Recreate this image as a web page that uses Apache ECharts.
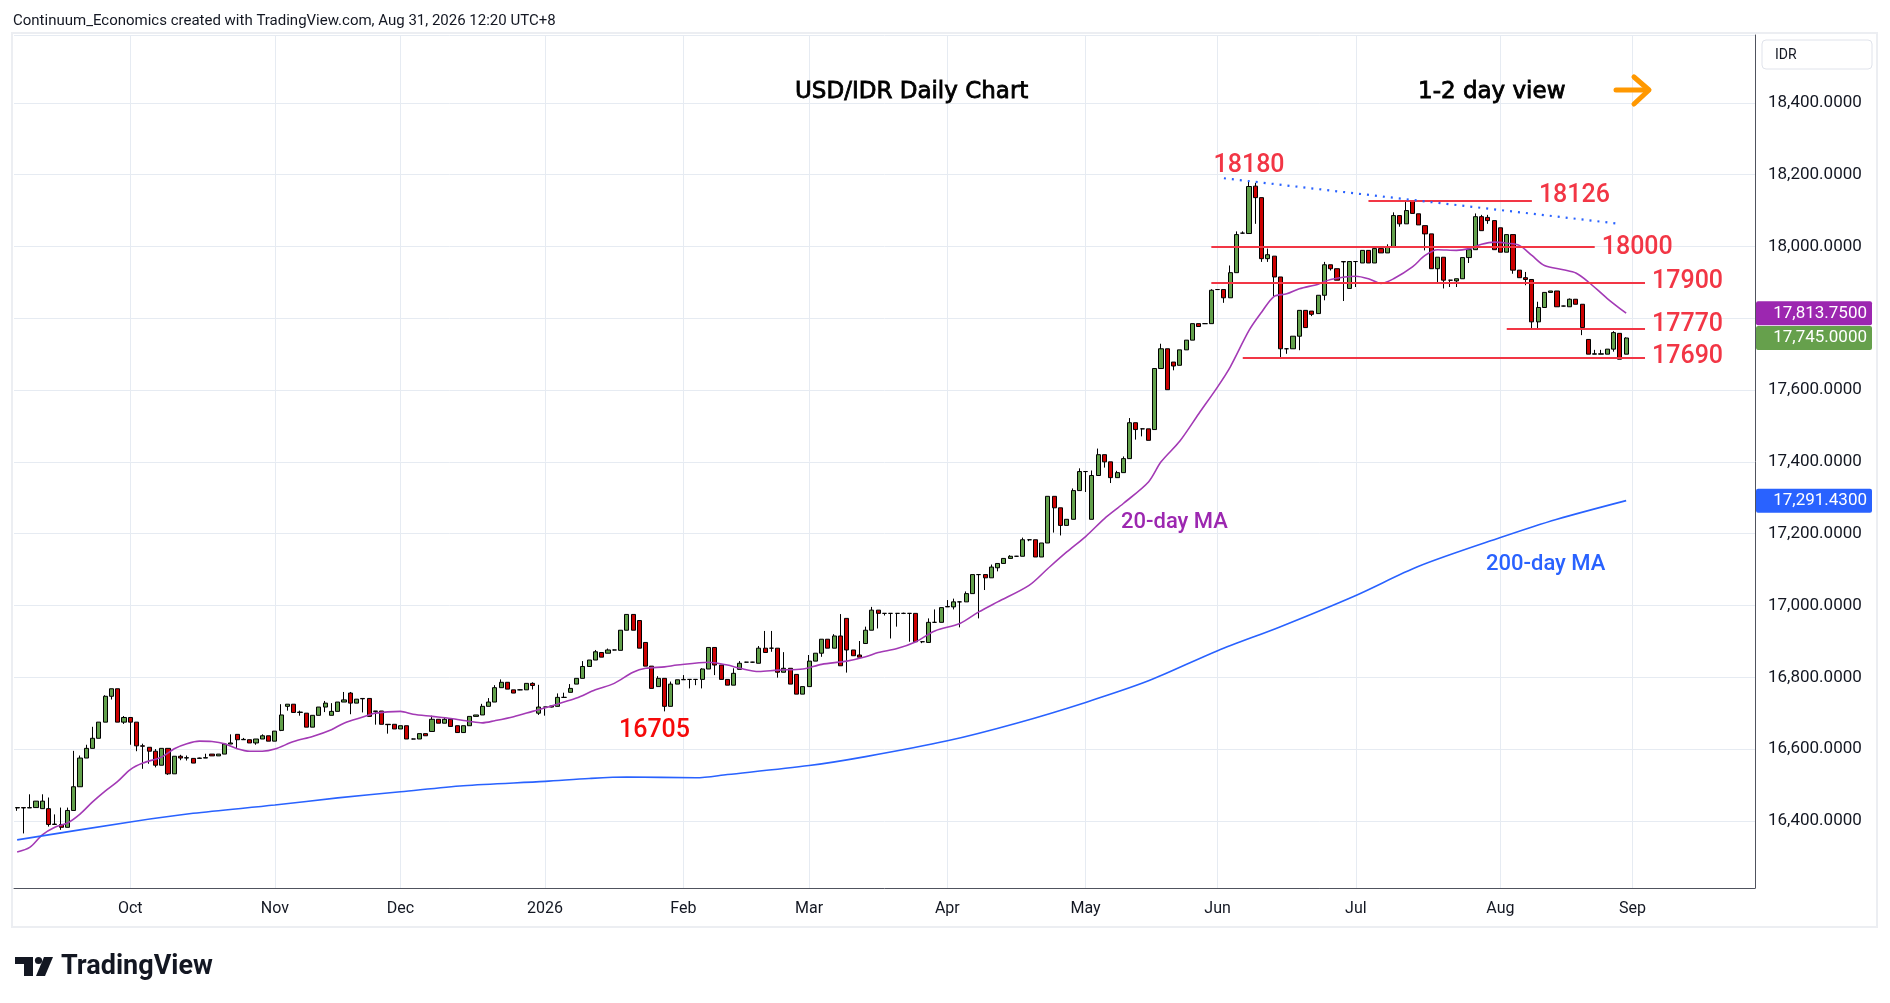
<!DOCTYPE html>
<html lang="en">
<head>
<meta charset="UTF-8">
<title>USD/IDR Daily Chart</title>
<script src="https://cdn.jsdelivr.net/npm/echarts@6/dist/echarts.min.js"></script>
<style>
  html, body { margin: 0; padding: 0; background: #fff; }
  #main { width: 1890px; height: 1003px; }
</style>
</head>
<body>
<div id="main"></div>
<script type="text/javascript">
// daily candles, [open, high, low, close], one array per month
var sep25 = [
  [16436,16437,16428,16437],[16437,16437,16365,16436],[16436,16474,16436,16437],[16437,16455,16437,16455],
  [16434,16474,16434,16455],[16434,16465,16384,16390],[16390,16418,16390,16391],[16390,16437,16375,16382],
  [16382,16437,16382,16429],[16429,16595,16429,16495],[16495,16582,16495,16575],[16575,16612,16575,16602],
  [16602,16662,16602,16630],[16630,16675,16630,16675],[16675,16750,16675,16747],[16747,16768,16738,16768],
  [16768,16768,16675,16675],[16675,16692,16670,16688]
];
var oct25 = [
  [16688,16688,16612,16675],[16675,16675,16594,16609],[16609,16615,16545,16608],[16605,16605,16559,16594],
  [16594,16600,16549,16555],[16555,16602,16555,16602],[16602,16602,16528,16531],[16531,16580,16531,16580],
  [16580,16584,16569,16575],[16575,16582,16568,16576],[16574,16574,16561,16561],[16574,16576,16573,16575],
  [16575,16587,16575,16576],[16586,16586,16581,16581],[16581,16586,16581,16586],[16586,16617,16586,16614],
  [16614,16641,16614,16617],[16641,16641,16603,16626],[16626,16631,16626,16627],[16626,16626,16617,16617],
  [16617,16628,16612,16628],[16628,16641,16628,16637],[16637,16637,16622,16622]
];
var nov25 = [
  [16622,16650,16622,16650],[16652,16725,16650,16695],[16719,16725,16707,16725],[16725,16725,16702,16702],
  [16702,16707,16693,16703],[16700,16700,16661,16661],[16661,16694,16661,16694],[16694,16717,16694,16717],
  [16717,16734,16703,16728],[16694,16728,16694,16705],[16705,16731,16705,16731],[16731,16759,16731,16737],
  [16756,16759,16697,16728],[16728,16739,16728,16739],[16741,16741,16702,16740],[16741,16741,16691,16691],
  [16706,16706,16668,16705],[16706,16706,16669,16669],[16669,16669,16643,16668],[16669,16669,16656,16656]
];
var dec25 = [
  [16656,16665,16656,16665],[16665,16665,16628,16628],[16628,16629,16627,16628],[16628,16643,16628,16643],
  [16643,16643,16637,16637],[16649,16693,16649,16683],[16683,16683,16672,16672],[16672,16688,16672,16683],
  [16683,16683,16663,16663],[16665,16665,16646,16646],[16646,16665,16646,16665],[16665,16691,16665,16691],
  [16691,16695,16691,16695],[16695,16726,16695,16719],[16719,16742,16719,16731],[16731,16778,16731,16771],
  [16771,16794,16771,16786],[16786,16786,16767,16767],[16765,16765,16756,16756],[16765,16766,16764,16765],
  [16765,16783,16765,16783],[16783,16786,16766,16777],[16700,16779,16695,16717]
];
var jan26 = [
  [16717,16717,16693,16717],[16720,16721,16716,16717],[16719,16755,16719,16744],[16744,16757,16743,16744],
  [16758,16781,16758,16769],[16781,16797,16781,16797],[16797,16845,16797,16830],[16830,16848,16830,16848],
  [16848,16876,16848,16871],[16869,16869,16856,16856],[16867,16880,16867,16876],[16876,16877,16875,16876],
  [16875,16931,16875,16931],[16931,16975,16931,16975],[16975,16975,16931,16931],[16958,16958,16881,16881],
  [16897,16897,16831,16831],[16831,16831,16769,16769],[16774,16803,16774,16797],[16797,16797,16705,16719],
  [16719,16788,16719,16781],[16781,16793,16781,16793]
];
var feb26 = [
  [16793,16806,16793,16794],[16794,16794,16769,16794],[16794,16794,16778,16794],[16794,16825,16769,16823],
  [16823,16883,16823,16883],[16883,16883,16806,16834],[16834,16834,16794,16794],[16794,16794,16778,16778],
  [16778,16825,16778,16811],[16822,16845,16822,16839],[16842,16843,16841,16842],[16842,16843,16841,16842],
  [16839,16887,16839,16881],[16881,16929,16869,16869],[16881,16929,16871,16881],[16881,16881,16799,16814],
  [16814,16870,16814,16825],[16825,16825,16781,16781],[16808,16808,16753,16753],[16753,16774,16753,16774]
];
var mar26 = [
  [16774,16862,16774,16845],[16845,16867,16845,16867],[16867,16906,16857,16906],[16906,16906,16881,16881],
  [16881,16920,16881,16915],[16915,16976,16832,16832],[16964,16964,16813,16876],[16876,16876,16860,16860],
  [16862,16901,16856,16856],[16894,16941,16894,16931],[16931,16996,16931,16987],[16987,16987,16936,16978],
  [16978,16979,16972,16978],[16978,16979,16908,16978],[16978,16979,16941,16978],[16978,16980,16976,16978],
  [16978,16979,16899,16978],[16978,16978,16899,16899],[16899,16900,16895,16899],[16897,16964,16897,16953],
  [16953,16989,16952,16953],[16953,16994,16953,16994]
];
var apr26 = [
  [16996,17015,16996,16997],[16996,17019,16989,17010],[17010,17011,16939,17010],[17010,17039,17010,17033],
  [17033,17086,17033,17086],[17086,17087,16964,17086],[17086,17086,17043,17077],[17077,17114,17077,17107],
  [17105,17117,17095,17117],[17117,17131,17117,17131],[17131,17140,17131,17137],[17137,17138,17136,17137],
  [17137,17189,17137,17183],[17183,17184,17179,17183],[17183,17183,17135,17135],[17135,17174,17135,17174],
  [17174,17304,17174,17304],[17304,17304,17203,17272],[17272,17272,17195,17223],[17223,17240,17223,17240],
  [17240,17326,17240,17320],[17320,17382,17320,17373]
];
var may26 = [
  [17373,17374,17316,17373],[17240,17376,17240,17362],[17362,17437,17362,17420],[17420,17420,17384,17400],
  [17400,17400,17341,17356],[17356,17375,17356,17370],[17370,17415,17370,17409],[17409,17522,17409,17509],
  [17509,17509,17462,17490],[17492,17493,17471,17492],[17492,17492,17460,17460],[17490,17660,17490,17660],
  [17660,17729,17660,17715],[17715,17715,17601,17601],[17678,17678,17655,17667],[17669,17712,17669,17712],
  [17712,17739,17712,17739],[17739,17785,17739,17785],[17785,17785,17777,17777],[17785,17786,17784,17785],
  [17785,17881,17785,17878]
];
var jun26 = [
  [17880,17881,17879,17880],[17880,17880,17843,17857],[17857,17947,17857,17927],[17927,18042,17927,18033],
  [18037,18042,18036,18037],[18036,18180,18036,18167],[18168,18177,18063,18136],[18136,18136,17957,17966],
  [17966,17994,17957,17977],[17973,17973,17861,17915],[17915,17915,17690,17715],[17715,17716,17701,17715],
  [17715,17750,17715,17750],[17750,17822,17711,17822],[17822,17822,17774,17774],[17820,17820,17806,17811],
  [17813,17864,17813,17864],[17864,17957,17850,17949],[17949,17949,17933,17938],[17938,17938,17906,17906],
  [17958,17958,17848,17957],[17883,17958,17883,17958]
];
var jul26 = [
  [17958,17959,17887,17958],[17954,17989,17954,17989],[17989,17989,17954,17954],[17954,17994,17954,17994],
  [17994,17994,17982,17982],[17982,18006,17982,17998],[17998,18095,17998,18086],[18086,18086,18055,18063],
  [18063,18126,18063,18100],[18126,18126,18092,18092],[18091,18091,18060,18060],[18058,18058,17989,18035],
  [18035,18035,17938,17938],[17938,17970,17901,17970],[17970,17970,17883,17906],[17906,17907,17887,17906],
  [17904,17910,17887,17910],[17910,17969,17910,17969],[17969,17991,17954,17991],[17991,18092,17991,18083],
  [18083,18088,18044,18044],[18081,18088,18063,18072],[18072,18072,17991,17991]
];
var aug26 = [
  [18052,18052,17984,17984],[17984,18033,17984,18033],[18033,18033,17924,17934],[17934,17934,17913,17913],
  [17913,17929,17892,17908],[17908,17908,17772,17790],[17790,17846,17772,17830],[17830,17872,17830,17872],
  [17872,17876,17872,17876],[17876,17876,17832,17832],[17834,17835,17833,17834],[17832,17855,17832,17853],
  [17853,17853,17839,17839],[17839,17839,17753,17774],[17741,17741,17700,17700],[17700,17712,17700,17701],
  [17700,17712,17700,17701],[17700,17714,17700,17714],[17714,17764,17707,17760],[17758,17758,17686,17686],
  [17700,17747,17700,17745]
];

// 20-day and 200-day moving averages
var ma20 = [
  ['2025-09-05',16313],['2025-09-09',16326],['2025-09-11',16361],['2025-09-15',16382],['2025-09-17',16394],
  ['2025-09-19',16419],['2025-09-23',16453],['2025-09-25',16483],['2025-09-29',16510],['2025-10-01',16543],
  ['2025-10-03',16561],['2025-10-08',16578],['2025-10-10',16601],['2025-10-14',16615],['2025-10-16',16622],
  ['2025-10-20',16621],['2025-10-22',16615],['2025-10-24',16601],['2025-10-28',16594],['2025-10-30',16594],
  ['2025-11-03',16600],['2025-11-06',16621],['2025-11-11',16635],['2025-11-14',16654],['2025-11-18',16672],
  ['2025-11-21',16689],['2025-11-25',16700],['2025-12-01',16705],['2025-12-03',16697],['2025-12-08',16691],
  ['2025-12-11',16685],['2025-12-16',16677],['2025-12-18',16673],['2025-12-22',16679],['2025-12-25',16690],
  ['2025-12-30',16705],['2026-01-02',16720],['2026-01-06',16731],['2026-01-08',16742],['2026-01-13',16765],
  ['2026-01-16',16783],['2026-01-21',16814],['2026-01-23',16825],['2026-01-28',16829],['2026-01-30',16834],
  ['2026-02-06',16842],['2026-02-11',16834],['2026-02-13',16825],['2026-02-18',16816],['2026-02-23',16820],
  ['2026-02-27',16823],['2026-03-04',16836],['2026-03-10',16845],['2026-03-13',16857],['2026-03-17',16869],
  ['2026-03-20',16880],['2026-03-25',16899],['2026-03-30',16929],['2026-04-03',16950],['2026-04-08',16982],
  ['2026-04-13',17010],['2026-04-20',17056],['2026-04-23',17103],['2026-04-28',17149],['2026-05-01',17192],
  ['2026-05-06',17242],['2026-05-11',17284],['2026-05-15',17344],['2026-05-19',17400],['2026-05-22',17458],
  ['2026-05-27',17534],['2026-06-01',17609],['2026-06-03',17664],['2026-06-08',17766],['2026-06-10',17817],
  ['2026-06-12',17861],['2026-06-16',17868],['2026-06-18',17882],['2026-06-23',17895],['2026-06-25',17908],
  ['2026-07-01',17917],['2026-07-03',17910],['2026-07-07',17897],['2026-07-09',17910],['2026-07-14',17943],
  ['2026-07-16',17975],['2026-07-20',17991],['2026-07-23',17989],['2026-07-27',17994],['2026-07-29',18006],
  ['2026-07-31',18012],['2026-08-04',18009],['2026-08-06',18003],['2026-08-10',17975],['2026-08-12',17947],
  ['2026-08-17',17935],['2026-08-19',17926],['2026-08-21',17901],['2026-08-26',17855],['2026-08-31',17814]
];
var ma200 = [
  ['2025-09-05',16347],['2025-10-01',16397],['2025-10-15',16421],['2025-11-03',16444],['2025-11-17',16464],
  ['2025-12-01',16481],['2025-12-15',16498],['2026-01-01',16510],['2026-01-12',16518],['2026-01-20',16522],
  ['2026-02-04',16520],['2026-02-11',16529],['2026-03-02',16554],['2026-03-13',16579],['2026-04-01',16623],
  ['2026-04-16',16672],['2026-05-01',16730],['2026-05-15',16790],['2026-06-01',16874],['2026-06-15',16941],
  ['2026-07-01',17028],['2026-07-15',17109],['2026-08-03',17189],['2026-08-14',17240],['2026-08-31',17292]
];

// drawn levels: value, first day, last day, label lift in px
var levels = [
  [18126, '2026-07-03', '2026-08-10', 5.5],
  [18000, '2026-05-29', '2026-08-24', -1.5],
  [17900, '2026-05-29', '2026-09-03', 0.5],
  [17770, '2026-08-04', '2026-09-03', 4.5],
  [17690, '2026-06-05', '2026-09-03', 0.5]
];
var trendLine = [['2026-06-02', 18190], ['2026-08-28', 18063]];
var lastPrices = [
  [17813.75, '#9c27b0'],
  [17745.00, '#66a04c'],
  [17291.43, '#2962ff']
];
var monthNames = ['Jan','Feb','Mar','Apr','May','Jun','Jul','Aug','Sep','Oct','Nov','Dec'];

// trading days (weekdays) from 5 Sep 2025, with empty room on the right
var days = [];
var d = new Date(Date.UTC(2025, 8, 5));
while (days.length < 277) {
  var wd = d.getUTCDay();
  if (wd != 0 && wd != 6) days.push(d.toISOString().slice(0, 10));
  d.setUTCDate(d.getUTCDate() + 1);
}
var candles = [].concat(sep25, oct25, nov25, dec25, jan26, feb26, mar26, apr26, may26, jun26, jul26, aug26);
var kData = candles.map(function (c) { return [c[0], c[3], c[2], c[1]]; });

function monthStart(i) {
  return i > 0 && days[i].slice(0, 7) != days[i - 1].slice(0, 7);
}
function idx(s) { return days.indexOf(s); }

var red = '#f23645';
var levelLines = levels.map(function (l) {
  return [
    { coord: [idx(l[1]), l[0]], lineStyle: { color: red, width: 2, type: 'solid' } },
    { coord: [idx(l[2]), l[0]] }
  ];
});
levelLines.push([
  { coord: [idx(trendLine[0][0]), trendLine[0][1]], lineStyle: { color: '#2962ff', width: 2.2, type: [2, 6] } },
  { coord: [idx(trendLine[1][0]), trendLine[1][1]] }
]);
var levelTags = levels.map(function (l) {
  return { coord: [idx(l[2]), l[0]],
           label: { position: 'right', distance: 7, offset: [0, -l[3]], formatter: String(l[0]) } };
});
levelTags.push(
  { coord: [idx('2026-06-08'), 18180], label: { position: 'top', distance: 4, formatter: '18180' } },
  { coord: [idx('2026-01-28'), 16705], label: { position: 'bottom', distance: 7, offset: [-10, 0], formatter: '16705', color: '#f50a0a' } }
);

var chart = echarts.init(document.getElementById('main'));
var txt = '#131722';
chart.setOption({
  animation: false,
  backgroundColor: '#ffffff',
  grid: { left: 14, right: 135, top: 35, bottom: 115 },
  xAxis: {
    type: 'category',
    data: days,
    boundaryGap: true,
    axisLine: { lineStyle: { color: '#50535e', width: 1 } },
    axisTick: { show: false },
    axisLabel: {
      interval: function (i) { return monthStart(i); },
      formatter: function (v) {
        var m = +v.slice(5, 7);
        return m == 1 ? v.slice(0, 4) : monthNames[m - 1];
      },
      color: txt, fontSize: 16, fontFamily: 'Roboto', margin: 13
    },
    splitLine: {
      show: true, alignWithLabel: true,
      interval: function (i) { return monthStart(i); },
      lineStyle: { color: '#e6ebf2', width: 1 }
    }
  },
  yAxis: {
    type: 'value',
    position: 'right',
    min: 16213,
    max: 18589,
    splitNumber: 12,
    axisLine: { show: true, lineStyle: { color: '#50535e', width: 1 } },
    axisTick: { show: false },
    axisLabel: {
      color: txt, fontSize: 17, fontFamily: 'Roboto', margin: 13,
      formatter: function (v) {
        if (v % 200 != 0 || v == 17800) return '';
        return v.toLocaleString('en-US', { minimumFractionDigits: 4, maximumFractionDigits: 4 });
      }
    },
    splitLine: { lineStyle: { color: '#e6ebf2', width: 1 } }
  },
  series: [
    {
      type: 'candlestick',
      data: kData,
      barWidth: 4.6,
      itemStyle: {
        color: '#62a04b', color0: '#cc0000',
        borderColor: '#000000', borderColor0: '#000000', borderWidth: 1
      },
      markLine: {
        silent: true, symbol: ['none', 'none'], animation: false,
        label: { show: false },
        data: levelLines
      },
      markPoint: {
        silent: true, symbol: 'circle', symbolSize: 0, animation: false,
        label: { show: true, color: red, fontSize: 25, fontWeight: 500, fontFamily: 'Roboto' },
        data: levelTags
      }
    },
    {
      type: 'line', name: '20-day MA', data: ma20, showSymbol: false, smooth: 0.3,
      lineStyle: { color: '#a33ab5', width: 1.6 }
    },
    {
      type: 'line', name: '200-day MA', data: ma200, showSymbol: false, smooth: 0.3,
      lineStyle: { color: '#2962ff', width: 1.6 }
    }
  ]
});

// price boxes on the right scale, header, titles and logo
var gfx = [];
var axisX = chart.getWidth() - 135;
lastPrices.forEach(function (p) {
  var y = chart.convertToPixel({ yAxisIndex: 0 }, p[0]);
  gfx.push({ type: 'rect', shape: { x: axisX + 1, y: y - 12, width: 116, height: 24, r: 2 },
             style: { fill: p[1] }, z: 10 });
  gfx.push({ type: 'text', x: axisX + 112, y: y, z: 11,
             style: { text: p[0].toLocaleString('en-US', { minimumFractionDigits: 4 }),
                      fill: '#fff', fontSize: 17, fontFamily: 'Roboto', align: 'right', verticalAlign: 'middle' } });
});
var titleFont = { fill: '#000', stroke: '#000', lineWidth: 0.8, fontSize: 23, fontFamily: 'DejaVu Sans', verticalAlign: 'middle' };
gfx.push(
  { type: 'rect', shape: { x: 12, y: 33, width: 1865, height: 894 }, style: { fill: null, stroke: '#eceef2', lineWidth: 2 }, z: -1 },
  { type: 'text', x: 13, y: 21, style: { text: 'Continuum_Economics created with TradingView.com, Aug 31, 2026 12:20 UTC+8',
      fill: txt, fontSize: 15, fontFamily: 'Roboto', verticalAlign: 'middle' } },
  { type: 'rect', shape: { x: 1762, y: 40, width: 110, height: 29, r: 4 }, style: { fill: '#fff', stroke: '#e0e3eb', lineWidth: 1 } },
  { type: 'text', x: 1775, y: 55, style: { text: 'IDR', fill: txt, fontSize: 14, fontFamily: 'Roboto', verticalAlign: 'middle' } },
  { type: 'text', x: 795, y: 92, style: Object.assign({ text: 'USD/IDR Daily Chart' }, titleFont) },
  { type: 'text', x: 1418, y: 92, style: Object.assign({ text: '1-2 day view' }, titleFont) },
  { type: 'polyline', shape: { points: [[1616, 90], [1648, 90]] }, style: { stroke: '#ff9800', lineWidth: 5, lineCap: 'round' } },
  { type: 'polyline', shape: { points: [[1634, 77], [1649, 90], [1634, 104]] }, style: { fill: null, stroke: '#ff9800', lineWidth: 5, lineCap: 'round', lineJoin: 'round' } },
  { type: 'text', x: 1121, y: 522, style: { text: '20-day MA', fill: '#9c27b0', fontSize: 22, fontWeight: 500, fontFamily: 'Roboto', verticalAlign: 'middle' } },
  { type: 'text', x: 1486, y: 564, style: { text: '200-day MA', fill: '#2962ff', fontSize: 22, fontWeight: 500, fontFamily: 'Roboto', verticalAlign: 'middle' } },
  // TradingView mark
  { type: 'rect', shape: { x: 15, y: 957, width: 18, height: 7 }, style: { fill: txt } },
  { type: 'rect', shape: { x: 24, y: 957, width: 9, height: 19 }, style: { fill: txt } },
  { type: 'circle', shape: { cx: 38.5, cy: 960.5, r: 3.6 }, style: { fill: txt } },
  { type: 'polygon', shape: { points: [[44, 957], [53, 957], [45, 976], [36, 976]] }, style: { fill: txt } },
  { type: 'text', x: 61, y: 967, style: { text: 'TradingView', fill: txt, fontSize: 27, fontWeight: 700, fontFamily: 'Roboto', verticalAlign: 'middle' } }
);
chart.setOption({ graphic: gfx });
</script>
</body>
</html>
